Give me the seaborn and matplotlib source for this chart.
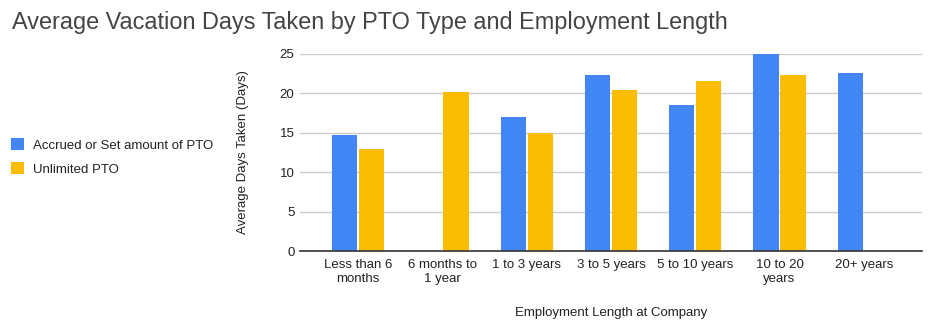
import numpy as np
import pandas as pd
import matplotlib
matplotlib.use("Agg")
import matplotlib.pyplot as plt
import seaborn as sns
from matplotlib.patches import Patch

categories = ["Less than 6\nmonths", "6 months to\n1 year", "1 to 3 years", "3 to 5 years",
              "5 to 10 years", "10 to 20\nyears", "20+ years"]
accrued = [14.7, np.nan, 17.0, 22.3, 18.5, 25.0, 22.6]
unlimited = [13.0, 20.2, 15.0, 20.4, 21.6, 22.3, np.nan]
series_names = ["Accrued or Set amount of PTO", "Unlimited PTO"]
colors = ["#4285F4", "#FBBC04"]
yticks = [0, 5, 10, 15, 20, 25]

df = pd.DataFrame({
    "Employment": categories * 2,
    "Days": accrued + unlimited,
    "Type": [series_names[0]] * len(categories) + [series_names[1]] * len(categories),
})

sns.set_style("white")
plt.rcParams["font.family"] = ["Liberation Sans", "DejaVu Sans"]

fig = plt.figure(figsize=(9.36, 3.32), dpi=100)
ax = fig.add_axes([300 / 936, 1 - 251 / 332, 622 / 936, 197 / 332])

sns.barplot(data=df, x="Employment", y="Days", hue="Type", order=categories,
            hue_order=series_names, palette=colors, width=0.64, gap=0.06,
            saturation=1, ax=ax, legend=False, linewidth=0)

ax.set_xlim(-0.69, 6.69)
ax.set_ylim(0, 25)
ax.set_yticks(yticks)
ax.set_yticklabels([str(t) for t in yticks], fontsize=9.5, color="#222222")
ax.tick_params(axis="x", labelsize=9.5, labelcolor="#222222", length=0, pad=6)
ax.tick_params(axis="y", length=0, pad=4)
ax.grid(axis="y", color="#cccccc", linewidth=1)
ax.set_axisbelow(True)
for s in ["top", "right", "left"]:
    ax.spines[s].set_visible(False)
ax.spines["bottom"].set_color("#333333")
ax.spines["bottom"].set_linewidth(1.2)
ax.spines["bottom"].set_zorder(5)

ax.set_xlabel("Employment Length at Company", fontsize=9.5, color="#222222", labelpad=16)
ax.set_ylabel("Average Days Taken (Days)", fontsize=9.5, color="#222222", labelpad=22)

fig.text(12 / 936, 1 - 22 / 332, "Average Vacation Days Taken by PTO Type and Employment Length",
         fontsize=16.9, color="#444444", va="center", ha="left")

handles = [Patch(facecolor=c, edgecolor="none") for c in colors]
fig.legend(handles, series_names, loc="center left", bbox_to_anchor=(0.0, 1 - 157 / 332),
           frameon=False, fontsize=9.5, handlelength=1.0, handleheight=1.0,
           handletextpad=0.7, labelspacing=0.8, borderaxespad=0.4, labelcolor="#222222")

fig.savefig("out.png", dpi=100)
